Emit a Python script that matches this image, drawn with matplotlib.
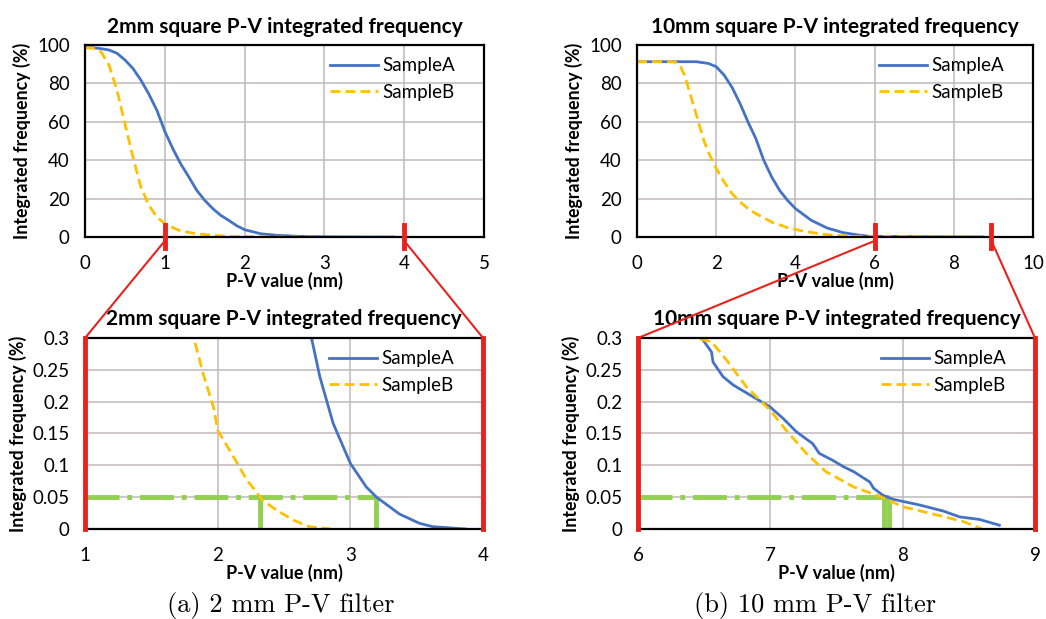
import numpy as np
import matplotlib.pyplot as plt
from matplotlib.patches import ConnectionPatch
from matplotlib.ticker import FormatStrFormatter

plt.rcParams['font.family'] = ['Lato', 'DejaVu Sans']

# ---- data ----
# 2 mm square, P-V value (nm) vs integrated frequency (%)
a2_x = [0, 0.1, 0.2, 0.3, 0.4, 0.5, 0.6, 0.7, 0.8, 0.9, 1.0, 1.1, 1.2, 1.3, 1.4, 1.5,
        1.6, 1.7, 1.8, 1.9, 2.0, 2.2, 2.4, 2.707, 2.77, 2.87, 3.0, 3.12, 3.197, 3.37,
        3.52, 3.62, 3.87]
a2_y = [98.6, 98.6, 98.1, 97.4, 95.7, 92.2, 87.8, 81.7, 74.4, 66, 55, 46, 38, 31.3,
        24.3, 19.1, 14.8, 11.3, 8.7, 5.9, 3.8, 1.7, 0.9, 0.3, 0.239, 0.166, 0.103,
        0.066, 0.05, 0.0235, 0.009, 0.0037, 0]
b2_x = [0, 0.1, 0.2, 0.3, 0.4, 0.5, 0.6, 0.7, 0.8, 0.9, 1.0, 1.1, 1.2, 1.4, 1.6,
        1.82, 1.89, 1.97, 2.0, 2.12, 2.22, 2.34, 2.44, 2.57, 2.69, 2.85]
b2_y = [98.6, 98.3, 96.5, 89.6, 76.5, 59, 41.7, 26, 16.5, 10.4, 7.0, 4.9, 3.1, 1.7,
        0.9, 0.3, 0.244, 0.19, 0.155, 0.113, 0.077, 0.045, 0.03, 0.014, 0.0037, 0]

# 10 mm square
a10_x = [0, 1.5, 1.6, 1.8, 2.0, 2.2, 2.4, 2.6, 2.8, 3.0, 3.2, 3.4, 3.6, 3.8, 4.0, 4.4,
         4.8, 5.2, 5.6, 5.88, 6.48, 6.555, 6.567, 6.643, 6.72, 6.87, 6.996, 7.097,
         7.197, 7.32, 7.37, 7.47, 7.55, 7.63, 7.75, 7.78, 7.85, 7.93, 8.13, 8.31,
         8.43, 8.58, 8.73]
a10_y = [91.3, 91.3, 91.0, 90.4, 88.7, 84.3, 77.9, 69.6, 60, 51.3, 40, 31.3, 24.3,
         19.1, 14.8, 8.7, 4.7, 2.3, 1.0, 0.35, 0.3, 0.278, 0.262, 0.239, 0.226,
         0.2075, 0.192, 0.1735, 0.1526, 0.134, 0.1187, 0.108, 0.098, 0.09, 0.074,
         0.064, 0.053, 0.0465, 0.0376, 0.028, 0.019, 0.015, 0.006]
b10_x = [0, 0.9, 1.0, 1.1, 1.2, 1.3, 1.4, 1.5, 1.6, 1.7, 1.8, 1.9, 2.0, 2.2, 2.4, 2.6,
         2.8, 3.0, 3.4, 3.8, 4.2, 4.8, 5.45, 6.555, 6.67, 6.82, 6.996, 7.12, 7.27,
         7.42, 7.63, 7.83, 8.0, 8.26, 8.46, 8.6]
b10_y = [91.3, 91.3, 90.8, 88.7, 84.3, 77.4, 70.4, 63.5, 56.5, 49.6, 44.3, 40, 35.7,
         28.7, 22.6, 18.3, 14.8, 12.2, 7.8, 4.9, 3.0, 1.2, 0.35, 0.294, 0.265, 0.223,
         0.187, 0.155, 0.119, 0.09, 0.066, 0.051, 0.035, 0.022, 0.0115, 0]

# 0.05 % threshold and where each sample crosses it
thr = 0.05
cross2 = [2.32, 3.19]
cross10 = [7.86, 7.90]
zoom2 = [1, 4]
zoom10 = [6, 9]
mark10 = [6, 8.95]

blue = '#4472C4'
orange = '#FFC000'
green = '#92D050'
red = '#E8231E'
gridc = '#C0B8B8'

fig = plt.figure(figsize=(10.46, 6.19), dpi=100)
ax_tl = fig.add_axes([0.0813, 0.6171, 0.3815, 0.3102])
ax_tr = fig.add_axes([0.609, 0.6171, 0.3786, 0.3102])
ax_bl = fig.add_axes([0.0813, 0.1454, 0.3805, 0.3086])
ax_br = fig.add_axes([0.610, 0.1454, 0.3795, 0.3086])


def style(ax, title):
    ax.grid(True, color=gridc, lw=1.1)
    ax.set_axisbelow(True)
    for s in ax.spines.values():
        s.set_color('black')
        s.set_linewidth(1.6)
    ax.tick_params(length=0, labelsize=13.5)
    ax.tick_params(axis='x', pad=13)
    ax.tick_params(axis='y', pad=11)
    ax.set_title(title, fontsize=15, fontweight='bold', pad=9)
    ax.set_xlabel('P-V value (nm)', fontsize=13, fontweight='bold', labelpad=0)
    ax.set_ylabel('Integrated frequency (%)', fontsize=12.8, fontweight='bold', labelpad=4)


def curves(ax, ax_, ay, bx, by):
    ax.plot(ax_, ay, color=blue, lw=2.0, label='SampleA')
    ax.plot(bx, by, color=orange, lw=2.0, dashes=(3.6, 1.8), label='SampleB')
    ax.legend(loc='upper right', bbox_to_anchor=(0.95, 0.985), frameon=False,
              fontsize=13.5, handlelength=2.6, handletextpad=0.2, labelspacing=0.5,
              borderpad=0)


t2 = '2mm square P-V integrated frequency'
t10 = '10mm square P-V integrated frequency'

curves(ax_tl, a2_x, a2_y, b2_x, b2_y)
ax_tl.set_xlim(0, 5)
ax_tl.set_ylim(0, 100)
ax_tl.set_yticks(range(0, 101, 20))
style(ax_tl, t2)

curves(ax_tr, a10_x, a10_y, b10_x, b10_y)
ax_tr.set_xlim(0, 10)
ax_tr.set_ylim(0, 100)
ax_tr.set_xticks(range(0, 11, 2))
ax_tr.set_yticks(range(0, 101, 20))
style(ax_tr, t10)

panels = [(ax_bl, zoom2, cross2, a2_x, a2_y, b2_x, b2_y, t2),
          (ax_br, zoom10, cross10, a10_x, a10_y, b10_x, b10_y, t10)]
for ax, zr, cr, xa, ya, xb, yb, tt in panels:
    curves(ax, xa, ya, xb, yb)
    ax.set_xlim(zr)
    ax.set_ylim(0, 0.3)
    ax.set_xticks(range(zr[0], zr[1] + 1))
    ax.set_yticks(np.arange(0, 0.31, 0.05))
    ax.yaxis.set_major_formatter(FormatStrFormatter('%g'))
    style(ax, tt)
    # threshold lines
    ax.plot([zr[0], max(cr)], [thr, thr], color=green, lw=3.5, dashes=(7, 1.6, 1, 1.6), zorder=1.5)
    for c in cr:
        ax.plot([c, c], [0, thr], color=green, lw=3.5, dashes=(7, 1.6, 1, 1.6), zorder=1.5)
    # red borders
    for xe in zr:
        ax.axvline(xe, color=red, lw=3.5, zorder=5, clip_on=False)

# red markers and connectors
for ax_top, ax_bot, marks in [(ax_tl, ax_bl, zoom2), (ax_tr, ax_br, mark10)]:
    for m, corner in zip(marks, [0, 1]):
        ax_top.axvline(m, ymin=-0.055, ymax=0.06, color=red, lw=3.5, clip_on=False, zorder=6)
        con = ConnectionPatch(xyA=(m, -2), coordsA=ax_top.transData,
                              xyB=(corner, 1), coordsB=ax_bot.transAxes,
                              color=red, lw=1.5, zorder=6)
        fig.add_artist(con)

fig.text(0.268, 0.022, '(a) 2 mm P-V filter', family=['cmr10', 'DejaVu Serif'],
         fontsize=19, ha='center', va='center')
fig.text(0.779, 0.022, '(b) 10 mm P-V filter', family=['cmr10', 'DejaVu Serif'],
         fontsize=19, ha='center', va='center')

fig.savefig('out.png', dpi=100)
